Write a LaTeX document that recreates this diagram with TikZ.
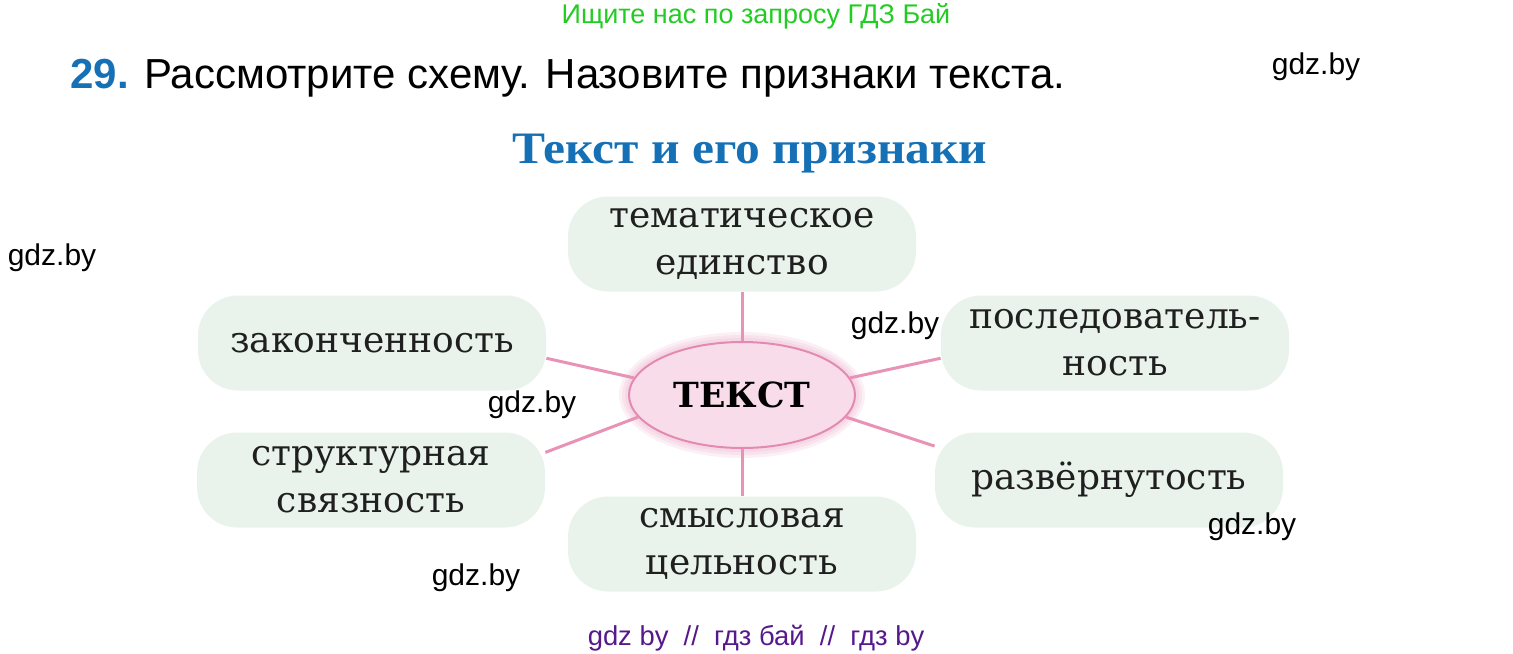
\documentclass[tikz,border=0pt]{standalone}
\usepackage{fontspec}
\setmainfont{DejaVu Serif}
\newfontfamily\headFont{Liberation Sans}
\newfontfamily\titleFont{Liberation Serif}
\usetikzlibrary{shapes.geometric}
\definecolor{boxColor}{RGB}{233,243,235}
\definecolor{linkColor}{RGB}{232,146,182}
\definecolor{ovalFill}{RGB}{249,220,233}
\definecolor{ovalLine}{RGB}{226,138,178}
\definecolor{headBlue}{RGB}{22,112,182}
\definecolor{markGreen}{RGB}{34,204,34}
\definecolor{markPurple}{RGB}{85,25,140}

\begin{document}
\begin{tikzpicture}[x=0.5pt,y=-0.5pt]

          \tikzstyle{normalBox} = [fill=boxColor, rounded corners=20pt, minimum width=174pt, minimum height=47.5pt, align=center, text=black!88, font=\fontsize{18}{23.5}\selectfont];
          \tikzstyle{mainNode} = [ellipse, draw=ovalLine, line width=1pt, fill=ovalFill, minimum width=113pt, minimum height=53pt, inner sep=0pt, font=\fontsize{17.3}{20}\selectfont\bfseries];
          \tikzstyle{linkEdge} = [line width=1.5pt, linkColor];
          \tikzstyle{markText} = [font=\headFont\fontsize{15}{18}\selectfont];

          \useasboundingbox (0,0) rectangle (1513,653);

          \node[font=\headFont\fontsize{13.5}{16}\selectfont, text=markGreen, anchor=base] (search) at (756,23) {Ищите нас по запросу ГДЗ Бай};
          \node[font=\headFont\fontsize{21}{25}\selectfont, anchor=base west, inner sep=0pt] (task) at (70,88) {\textcolor{headBlue}{\bfseries 29.} Рассмотрите схему. Назовите признаки текста.};
          \node[font=\titleFont\fontsize{22.5}{26}\selectfont\bfseries, text=headBlue, anchor=base] (title) at (750,163) {\scalebox{1.1}[1]{Текст и его признаки}};

          \foreach \g in {10,7,4}
            \fill[ovalLine, opacity=0.13] (742,395) ellipse ({113+\g} and {53+\g});

          \node[mainNode] (tekst) at (742,395) {ТЕКСТ};
          \node[normalBox] (tema) at (742,244) {тематическое\\единство};
          \node[normalBox] (zakon) at (372,343) {законченность};
          \node[normalBox] (posled) at (1115,343) {последователь-\\ность};
          \node[normalBox] (struct) at (371,480) {структурная\\связность};
          \node[normalBox] (razv) at (1109,480) {развёрнутость};
          \node[normalBox] (smysl) at (742,544) {смысловая\\цельность};

          \draw[linkEdge] (tekst.north) -- (tema.south);
          \draw[linkEdge] (tekst.171) -- (zakon.-5);
          \draw[linkEdge] (tekst.192) -- (struct.9);
          \draw[linkEdge] (tekst.9) -- (posled.185);
          \draw[linkEdge] (tekst.-12) -- (razv.169);
          \draw[linkEdge] (tekst.south) -- (smysl.north);

          \node[markText] (mark1) at (1316,67) {gdz.by};
          \node[markText] (mark2) at (52,258) {gdz.by};
          \node[markText] (mark3) at (895,326) {gdz.by};
          \node[markText] (mark4) at (532,405) {gdz.by};
          \node[markText] (mark5) at (1252,527) {gdz.by};
          \node[markText] (mark6) at (476,578) {gdz.by};
          \node[font=\headFont\fontsize{13.7}{16}\selectfont, text=markPurple, anchor=base] (footer) at (756,645) {gdz by\ \ //\ \ гдз бай\ \ //\ \ гдз by};
        \end{tikzpicture}
\end{document}
